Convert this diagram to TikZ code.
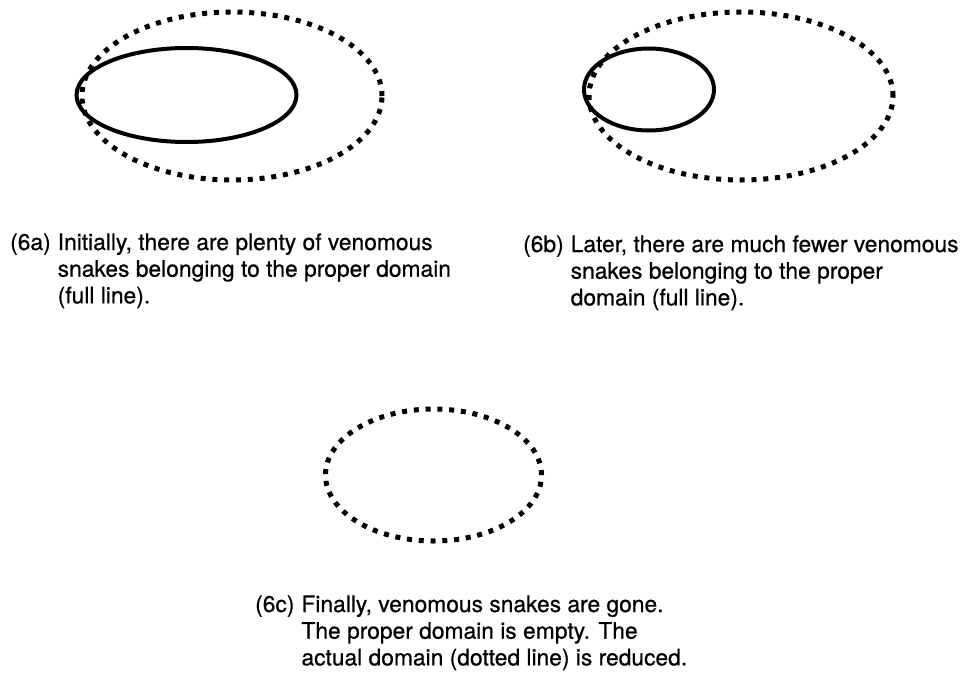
\documentclass[tikz,border=0pt]{standalone}
\usepackage{fontspec}
\setmainfont[FakeBold=0.6]{TeX Gyre Heros}
\usepackage{tikz}
\usetikzlibrary{positioning}
\newcommand{\caprows}[1]{\begin{tabular}[t]{@{}l@{\hspace{7pt}}l@{}}#1\end{tabular}}

\begin{document}
\begin{tikzpicture}[x=1pt, y=-1pt,
      proper/.style={draw=black, line width=4pt},
      actual/.style={draw=black, line width=5pt, dash pattern=on 5pt off 6.8pt},
      caption/.style={anchor=base west, inner sep=0pt, font=\fontsize{22.8}{26.7}\selectfont}]
    \useasboundingbox (0,0) rectangle (960,677);
    % 6a
    \draw[actual] (232,96) ellipse [x radius=150pt, y radius=84pt];
    \draw[proper] (186.5,95) ellipse [x radius=110pt, y radius=47pt];
    \node[caption] (capa) at (10,250) {\caprows{(6a) & Initially, there are plenty of venomous\\
      & snakes belonging to the proper domain\\ & (full line).}};
    % 6b
    \draw[actual] (741,96) ellipse [x radius=152pt, y radius=84pt];
    \draw[proper] (649,89.5) ellipse [x radius=65pt, y radius=41pt];
    \node[caption] (capb) at (523,252) {\caprows{(6b) & Later, there are much fewer venomous\\
      & snakes belonging to the proper\\ & domain (full line).}};
    % 6c
    \draw[actual] (433.5,475) ellipse [x radius=108pt, y radius=66pt];
    \node[caption] (capc) at (255,612) {\caprows{(6c) & Finally, venomous snakes are gone.\\
      & The proper domain is empty. The\\ & actual domain (dotted line) is reduced.}};
  \end{tikzpicture}
\end{document}
